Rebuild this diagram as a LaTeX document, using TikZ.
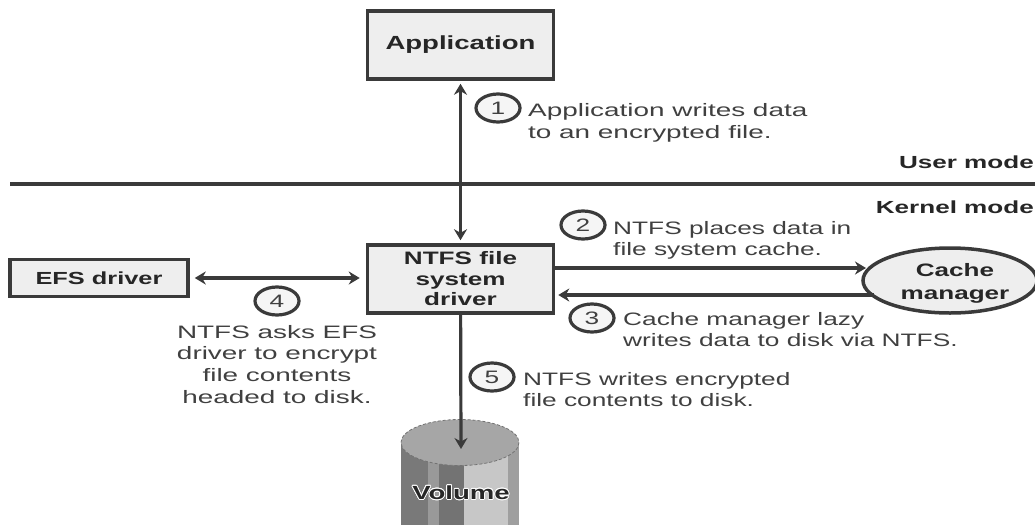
\documentclass[tikz,border=0pt]{standalone}
\usepackage{fontspec}
\usepackage[copies]{contour}
\usetikzlibrary{arrows.meta,shapes.geometric}
\setmainfont[FakeStretch=1.46]{Liberation Sans}
\newfontfamily\notewide[FakeStretch=1.55]{Liberation Sans}
\newfontfamily\boldwide[FakeStretch=1.45]{Liberation Sans Bold}
\newfontfamily\modewide[FakeStretch=1.49]{Liberation Sans Bold}
\contourlength{0.8pt}
\definecolor{ink}{HTML}{3A3A3A}
\definecolor{txt}{HTML}{404040}
\definecolor{boxfill}{HTML}{EEEEEE}
\tikzset{
  px/.style={x=1pt,y=-1pt},
  block/.style={draw=ink,line width=3.5pt,fill=boxfill,inner sep=0pt,align=center,text=black!85,
    font=\boldwide\fontsize{18}{21.5}\selectfont},
  num/.style={draw=ink,line width=3.2pt,fill=boxfill!60!white,ellipse,minimum width=44pt,minimum height=28pt,inner sep=0pt,
    text=txt,font=\fontsize{18}{18}\selectfont},
  note/.style={text=txt,inner sep=0pt,align=left,font=\fontsize{18}{21.7}\selectfont},
  notew/.style={note,font=\notewide\fontsize{18}{21.7}\selectfont},
  conn/.style={draw=ink,line width=3.2pt},
  tip2/.style={<->,>={Stealth[length=11pt,width=13pt]}},
  tip1/.style={->,>={Stealth[length=11pt,width=13pt]}},
  mode/.style={text=black!85,inner sep=0pt,font=\modewide\fontsize{17.5}{18}\selectfont},
}
\begin{document}
\begin{tikzpicture}[px]
\useasboundingbox (0,0) rectangle (1035,525);
\fill[white] (0,0) rectangle (1035,525);
% mode line
\coordinate (ml) at (10,184);
\coordinate (mr) at (1035,184);
\draw[conn,line width=3.6pt] (ml) -- (mr);
\node[mode,anchor=east] (user) at (1034,162) {User mode};
\node[mode,anchor=east] (kern) at (1034,207) {Kernel mode};
% volume
\begin{scope}
\clip (0,0) rectangle (1035,525);
\fill[gray!95!black] (401,442) rectangle (428,525);
\fill[gray!80] (428,442) rectangle (439,525);
\fill[gray!90!black] (439,442) rectangle (464,525);
\fill[black!22] (464,442) rectangle (508,525);
\fill[gray!75] (508,442) rectangle (519,525);
\fill[black!35,draw=black!55,densely dashed,line width=.8pt] (460,442.5) ellipse [x radius=59,y radius=23];
\end{scope}
\coordinate (voltop) at (461,449);
\node[text=black!85,inner sep=0pt,font=\boldwide\fontsize{19}{20}\selectfont] (vol) at (461,493) {\contour{white!85}{Volume}};
% blocks
\node[block,font=\boldwide\fontsize{19}{21}\selectfont,minimum width=186pt,minimum height=68pt] (app) at (460.5,45) {Application};
\node[block,minimum width=186pt,minimum height=68pt] (ntfs) at (460.5,279) {NTFS file\\[-1pt]system\\[-1pt]driver};
\node[block,font=\boldwide\fontsize{17.5}{21}\selectfont,minimum width=178pt,minimum height=37pt] (efs) at (99,278) {EFS driver};
\node[block,ellipse,font=\boldwide\fontsize{18}{23}\selectfont,minimum width=174pt,minimum height=65pt] (cache) at (950,280.5) {\rule{0pt}{18pt}\hspace*{10pt}Cache\\\hspace*{10pt}manager};
% connectors
\draw[conn,tip2,shorten <=3pt,shorten >=3pt] (app) -- (ntfs);
\draw[conn,tip2,shorten <=5pt,shorten >=6pt] (efs.east) -- (ntfs.west |- efs.east);
\coordinate (c2) at (866,268);
\coordinate (c3) at (874,295);
\draw[conn,tip1] (ntfs.east |- c2) -- (c2);
\draw[conn,tip1,shorten >=3pt] (c3) -- (ntfs.east |- c3);
\draw[conn,tip1] (ntfs) -- (voltop);
% numbers
\node[num] (n1) at (498,108) {1};
\node[num] (n2) at (583,225) {2};
\node[num] (n3) at (592,318) {3};
\node[num] (n4) at (277,301) {4};
\node[num] (n5) at (492,377) {5};
% notes
\node[notew,anchor=north west] (t1) at (528,103.5) {Application writes data\\to an encrypted file.};
\node[note,anchor=north west] (t2) at (613,221) {NTFS places data in\\file system cache.};
\node[note,anchor=north west] (t3) at (623,312) {Cache manager lazy\\writes data to disk via NTFS.};
\node[notew,anchor=north,align=center] (t4) at (277,325) {NTFS asks EFS\\driver to encrypt\\file contents\\headed to disk.};
\node[note,anchor=north west] (t5) at (523,372) {NTFS writes encrypted\\file contents to disk.};
\end{tikzpicture}
\end{document}
